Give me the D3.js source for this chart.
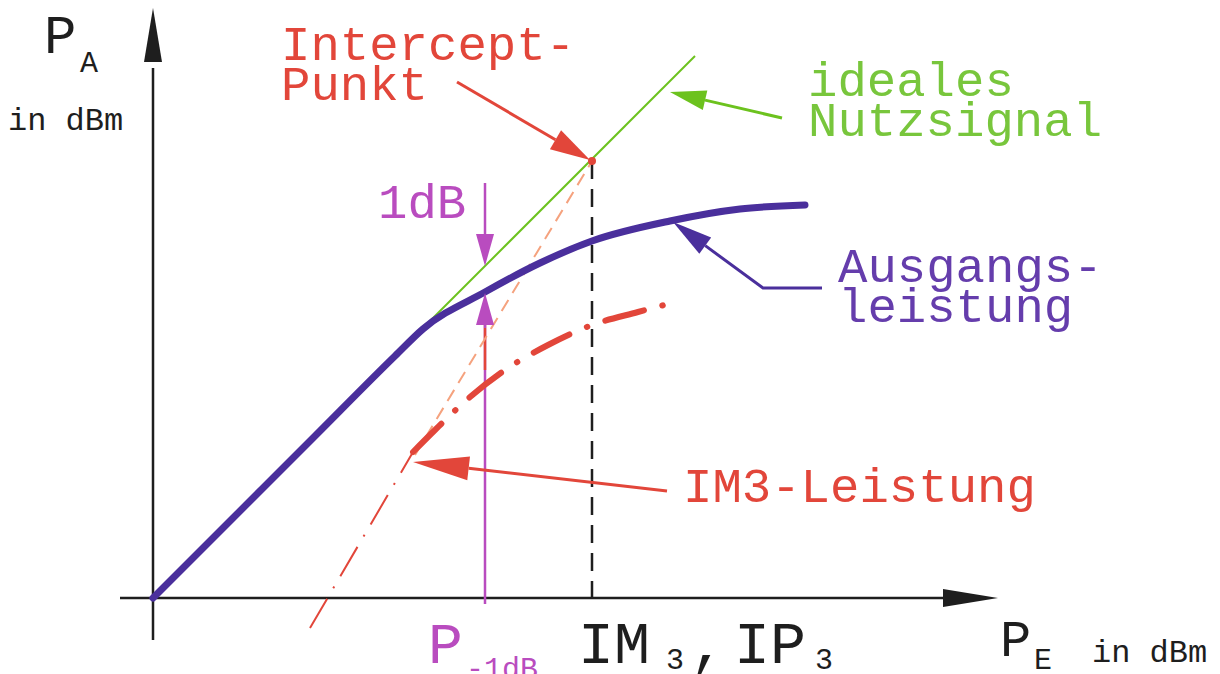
<!DOCTYPE html>
<html>
<head>
<meta charset="utf-8">
<script src="https://cdn.jsdelivr.net/npm/d3@7"></script>
<style>
  body { margin: 0; background: #fff; }
  svg text { font-family: "Liberation Mono", "DejaVu Sans Mono", monospace; }
</style>
</head>
<body>
<svg id="chart" width="1220" height="674"></svg>
<script>
// schematic values, 1 unit = 1 dB (arbitrary offset, origin at axis crossing)
const outIn   = [0, 8, 16, 24.2, 27.0, 33.2, 38.7, 43.9, 51.7, 58.7, 65.2];
const outPow  = [0, 8, 16, 24.2, 26.9, 30.6, 33.5, 35.7, 37.7, 38.9, 39.3];
const idealIn = [26.2, 54.2];
const im3In   = [26.0, 28.2, 31.7, 35.5, 39.5, 43.9, 48.5, 51.5];
const im3Pow  = [14.6, 16.8, 20.1, 23.0, 25.3, 27.3, 28.6, 29.4];
const im3LowIn  = [15.7, 26.0];
const im3LowPow = [-3.0, 14.6];
const asymIn  = [26.2, 43.9];
const asymPow = [14.3, 43.7];
const ip3 = [43.9, 43.7];
const p1dB = 33.2;

const svg = d3.select('#chart');
const x = d3.scaleLinear().domain([0, 84.5]).range([153, 998]);
const y = d3.scaleLinear().domain([0, 59]).range([598, 8]);

const red = '#e2463a', green = '#6cc21e', purple = '#4a2f9c', magenta = '#b94cbf', black = '#1e1e1e';

function arrow(g, pts, color, len, half, width) {
    // pts in data units, last point is the tip
    let p = pts.map(d => [x(d[0]), y(d[1])]);
    let tip = p[p.length - 1], prev = p[p.length - 2];
    let dx = tip[0] - prev[0], dy = tip[1] - prev[1];
    let n = Math.hypot(dx, dy); dx /= n; dy /= n;
    let base = [tip[0] - dx * len, tip[1] - dy * len];
    let line = p.slice(0, -1).concat([base]);
    g.append('path').attr('d', d3.line()(line))
        .attr('fill', 'none').attr('stroke', color).attr('stroke-width', width);
    g.append('path')
        .attr('d', d3.line()([tip, [base[0] - dy * half, base[1] + dx * half], [base[0] + dy * half, base[1] - dx * half]]) + 'Z')
        .attr('fill', color);
}

// axes
svg.append('line').attr('x1', x(-3.3)).attr('x2', x(80)).attr('y1', y(0)).attr('y2', y(0))
    .attr('stroke', black).attr('stroke-width', 2.5);
svg.append('line').attr('x1', x(0)).attr('x2', x(0)).attr('y1', y(-4.2)).attr('y2', y(53))
    .attr('stroke', black).attr('stroke-width', 2.5);
svg.append('path').attr('d', d3.line()([[x(79), y(0) - 9], [x(84.5), y(0)], [x(79), y(0) + 9]]) + 'Z').attr('fill', black);
svg.append('path').attr('d', d3.line()([[x(0) - 9, y(53.6)], [x(0), y(59)], [x(0) + 9, y(53.6)]]) + 'Z').attr('fill', black);

// IP3 dashed vertical
svg.append('line').attr('x1', x(ip3[0])).attr('x2', x(ip3[0])).attr('y1', y(ip3[1])).attr('y2', y(-1))
    .attr('stroke', black).attr('stroke-width', 2.5).attr('stroke-dasharray', '18,10');

// P-1dB vertical
svg.append('line').attr('x1', x(p1dB)).attr('x2', x(p1dB)).attr('y1', y(27)).attr('y2', y(-0.6))
    .attr('stroke', magenta).attr('stroke-width', 2.5);
svg.append('line').attr('x1', x(p1dB)).attr('x2', x(p1dB)).attr('y1', y(27.6)).attr('y2', y(22.8))
    .attr('stroke', red).attr('stroke-width', 2.5);

// IM3 asymptote (orange dashed)
svg.append('path').attr('d', d3.line().x((d, i) => x(d)).y((d, i) => y(asymPow[i]))(asymIn))
    .attr('fill', 'none').attr('stroke', '#f5a27e').attr('stroke-width', 2).attr('stroke-dasharray', '13,8');

// ideal line
svg.append('path').attr('d', d3.line().x(d => x(d)).y(d => y(d))(idealIn))
    .attr('fill', 'none').attr('stroke', green).attr('stroke-width', 2);

// IM3 lower thin dash-dot
svg.append('path').attr('d', d3.line().x(d => x(d)).y((d, i) => y(im3LowPow[i]))(im3LowIn))
    .attr('fill', 'none').attr('stroke', red).attr('stroke-width', 2).attr('stroke-dasharray', '34,12,2,12');

// IM3 thick dash-dot
svg.append('path').attr('d', d3.line().x(d => x(d)).y((d, i) => y(im3Pow[i])).curve(d3.curveMonotoneX)(im3In))
    .attr('fill', 'none').attr('stroke', red).attr('stroke-width', 6).attr('stroke-linecap', 'round')
    .attr('stroke-dasharray', '40,19,0.5,19');

// output power curve
svg.append('path').attr('d', d3.line().x(d => x(d)).y((d, i) => y(outPow[i])).curve(d3.curveMonotoneX)(outIn))
    .attr('fill', 'none').attr('stroke', purple).attr('stroke-width', 7).attr('stroke-linecap', 'round');

// intercept point
svg.append('circle').attr('cx', x(ip3[0])).attr('cy', y(ip3[1])).attr('r', 4).attr('fill', red);

// annotation arrows
let ann = svg.append('g');
arrow(ann, [[30.4, 51.6], [43.7, 43.8]], red, 40, 11, 3);
arrow(ann, [[62.9, 48.0], [51.7, 50.6]], green, 36, 10, 3);
arrow(ann, [[66.9, 31.0], [61.0, 31.0], [52.0, 37.6]], purple, 40, 10, 3);
arrow(ann, [[51.4, 10.7], [26.0, 13.6]], red, 56, 12, 3);
arrow(ann, [[p1dB, 41.5], [p1dB, 33.2]], magenta, 32, 9, 2.5);
arrow(ann, [[p1dB, 27], [p1dB, 30.5]], magenta, 32, 9, 2.5);

// labels
function label(txt, px, py, size, color) {
    return svg.append('text').attr('x', px).attr('y', py).attr('font-size', size).attr('fill', color).text(txt);
}
label('Intercept-', 281, 60, 49, red);
label('Punkt', 281, 100, 49, red);
label('ideales', 808, 96, 49, '#78c63c');
label('Nutzsignal', 808, 136, 49, '#78c63c');
label('Ausgangs-', 838, 282, 49, '#653dac');
label('leistung', 838, 322, 49, '#653dac');
label('IM3-Leistung', 683, 502, 49, red);
label('1dB', 378, 218, 49, magenta);

label('P', 44, 53, 54, black);
label('A', 80, 72, 30, black);
label('in dBm', 8, 130, 32, black);

label('P', 1000, 656, 52, black);
label('E', 1034, 669, 30, black);
label('in dBm', 1092, 662, 32, black);

label('P', 428, 663, 58, magenta);
label('-1dB', 466, 678, 30, magenta);

label('IM', 578, 663, 60, black);
label('3', 666, 669, 30, black);
label(',', 690, 663, 60, black);
label('IP', 734, 663, 60, black);
label('3', 815, 669, 30, black);
</script>
</body>
</html>
